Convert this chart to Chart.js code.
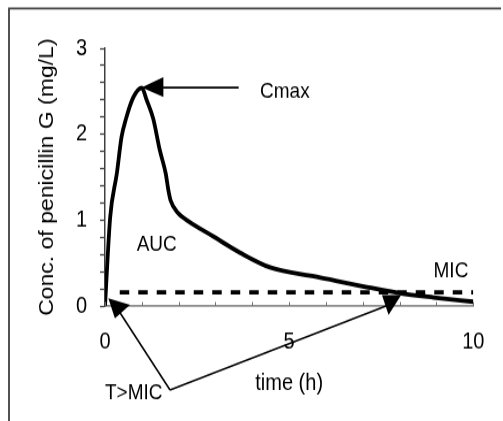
<!DOCTYPE html>
<html>
<head>
<meta charset="utf-8">
<script src="https://cdn.jsdelivr.net/npm/chart.js@4"></script>
<style>
  html, body { margin: 0; padding: 0; background: #fff; }
  #page { width: 503px; height: 421px; overflow: hidden; }
  /* the reference is stretched vertically, so the canvas is too */
  #wrap { width: 503px; height: 366px; transform: scaleY(1.1503); transform-origin: 0 0; }
</style>
</head>
<body>
<div id="page"><div id="wrap"><canvas id="pkChart" width="503" height="366"></canvas></div></div>
<script>
// plasma concentration curve
const timeHours = [0, 0.14, 0.32, 0.45, 0.57, 0.77, 1.0, 1.13, 1.31, 1.49, 1.65, 1.72, 1.78, 1.99, 2.22, 2.94, 3.67, 4.48, 5.75, 7.11, 8.0, 8.92, 10];
const concentration = [0, 1.03, 1.54, 1.97, 2.18, 2.43, 2.54, 2.40, 2.18, 1.81, 1.54, 1.35, 1.23, 1.08, 1.00, 0.81, 0.62, 0.45, 0.34, 0.22, 0.15, 0.10, 0.05];

const micLevel = 0.16;
const micFrom = 0.4;
const micTo = 10;

const xTickLabels = ["0", "5", "10"];
const yTickLabels = ["0", "1", "2", "3"];

// annotations, in data units
const noteTexts = [
  { text: "Cmax", x: 4.21, y: 2.5 },
  { text: "AUC", x: 0.86, y: 0.71 },
  { text: "MIC", x: 8.92, y: 0.41 },
  { text: "T>MIC", x: 0.0, y: -1.015 },
];
const noteLines = [
  [[3.63, 2.543], [1.3, 2.543]],
  [[1.766, -0.977], [0.36, -0.047]],
  [[1.766, -0.977], [7.69, 0.01]],
];
const noteHeads = [
  [[0.997, 2.543], [1.585, 2.666], [1.585, 2.434]],
  [[0.09, 0.089], [0.68, 0.012], [0.27, -0.143]],
  [[7.52, 0.128], [8.04, 0.128], [7.7, -0.105]],
];

const FONT = "'Liberation Sans', Arial, sans-serif";

const annotationPlugin = {
  id: "annotations",
  afterDatasetsDraw(chart) {
    const ctx = chart.ctx;
    const xs = chart.scales.x;
    const ys = chart.scales.y;
    const px = (v) => xs.getPixelForValue(v);
    const py = (v) => ys.getPixelForValue(v);

    ctx.save();
    // inward minor ticks on the time axis
    ctx.strokeStyle = "#707070";
    ctx.lineWidth = 1;
    xs.ticks.forEach((t) => {
      const x = Math.round(px(t.value)) + 0.5;
      ctx.beginPath();
      ctx.moveTo(x, xs.top);
      ctx.lineTo(x, xs.top - 3.5);
      ctx.stroke();
    });

    ctx.strokeStyle = "#000";
    ctx.fillStyle = "#000";
    ctx.lineWidth = 1.6;
    noteLines.forEach(([a, b]) => {
      ctx.beginPath();
      ctx.moveTo(px(a[0]), py(a[1]));
      ctx.lineTo(px(b[0]), py(b[1]));
      ctx.stroke();
    });
    noteHeads.forEach((tri) => {
      ctx.beginPath();
      tri.forEach(([x, y], i) => (i ? ctx.lineTo(px(x), py(y)) : ctx.moveTo(px(x), py(y))));
      ctx.closePath();
      ctx.fill();
    });

    ctx.font = `19px ${FONT}`;
    ctx.textAlign = "left";
    ctx.textBaseline = "middle";
    noteTexts.forEach((n) => ctx.fillText(n.text, px(n.x), py(n.y)));

    // frame around the figure (top and left edges visible)
    ctx.strokeStyle = "#404040";
    ctx.lineWidth = 1.8;
    ctx.beginPath();
    ctx.moveTo(9, chart.height);
    ctx.lineTo(9, 7.3);
    ctx.lineTo(501, 7.3);
    ctx.stroke();
    ctx.restore();
  },
};

new Chart(document.getElementById("pkChart"), {
  type: "scatter",
  data: {
    datasets: [
      {
        label: "penicillin G",
        data: timeHours.map((t, i) => ({ x: t, y: concentration[i] })),
        showLine: true,
        borderColor: "#000",
        borderWidth: 3.8,
        pointRadius: 0,
        cubicInterpolationMode: "monotone",
      },
      {
        label: "MIC",
        data: [
          { x: micFrom, y: micLevel },
          { x: micTo, y: micLevel },
        ],
        showLine: true,
        borderColor: "#000",
        borderWidth: 3.8,
        borderDash: [9.5, 9],
        pointRadius: 0,
      },
    ],
  },
  options: {
    responsive: false,
    animation: false,
    devicePixelRatio: 1,
    layout: { padding: { left: 0, right: 29.7, top: 42, bottom: 0 } },
    plugins: { legend: { display: false }, tooltip: { enabled: false } },
    scales: {
      x: {
        type: "linear",
        min: 0,
        max: 10,
        afterFit: (scale) => { scale.height = 100; },
        border: { display: true, color: "#8c8c8c", width: 1.8 },
        grid: { display: false },
        ticks: {
          stepSize: 1,
          autoSkip: false,
          maxRotation: 0,
          padding: 11.8,
          color: "#000",
          font: { family: FONT, size: 20 },
          callback: (v) => (xTickLabels.includes(String(v)) ? String(v) : ""),
        },
        title: {
          display: true,
          text: "time (h)",
          color: "#000",
          font: { family: FONT, size: 20 },
          padding: { top: 0, bottom: 20.4 },
        },
      },
      y: {
        type: "linear",
        min: 0,
        max: 3,
        afterFit: (scale) => { scale.width = 105; },
        border: { display: true, color: "#404040", width: 1.5 },
        grid: {
          display: true,
          drawOnChartArea: false,
          drawTicks: true,
          tickLength: 5,
          tickColor: "#404040",
          tickWidth: 1.3,
        },
        ticks: {
          stepSize: 0.2,
          autoSkip: false,
          padding: 13,
          color: "#000",
          font: { family: FONT, size: 20 },
          callback: (v) => {
            const r = String(Math.round(v));
            return Math.abs(v - Math.round(v)) < 1e-6 && yTickLabels.includes(r) ? r : "";
          },
        },
        title: {
          display: true,
          text: "Conc. of penicillin G (mg/L)",
          color: "#000",
          font: { family: FONT, size: 20 },
          padding: { top: 35, bottom: 0 },
        },
      },
    },
  },
  plugins: [annotationPlugin],
});
</script>
</body>
</html>
